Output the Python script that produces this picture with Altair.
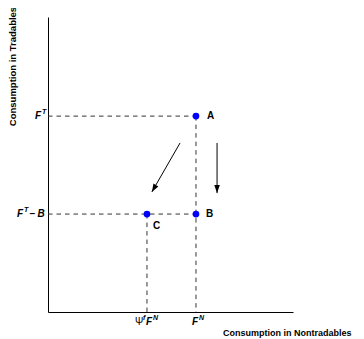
import altair as alt
import pandas as pd

FONT = "Liberation Sans"

# Points
pt_label = ["A", "B", "C"]
pt_x = [6.04, 6.04, 4.04]
pt_y = [6.64, 3.32, 3.32]
pt_dx = [11, 10, 6]
pt_dy = [0, 0, 12]

# Arrows
arr_x1 = [5.39, 6.90]
arr_y1 = [5.73, 5.73]
arr_x2 = [4.24, 6.90]
arr_y2 = [4.07, 4.03]
arr_angle = [30, 0]

# Tick label pieces (y axis): text, value, dx, dy, size
ylab_text = ["F", "T", "F", "T", "\u2212 B"]
ylab_val = [6.64, 6.64, 3.32, 3.32, 3.32]
ylab_dx = [-13, -6, -31, -24, -19]
ylab_dy = [0, -4, 0, -4, 0]
ylab_size = [10, 7, 10, 7, 10]

# Tick label pieces (x axis)
xlab_text = ["F", "N", "\u03a8", "f", "F", "N"]
xlab_val = [6.04, 6.04, 4.04, 4.04, 4.04, 4.04]
xlab_dx = [-4, 3, -12, -4, -1, 6]
xlab_dy = [10, 6, 10, 6, 10, 6]
xlab_size = [10, 7, 10, 7, 10, 7]

pts = pd.DataFrame({"label": pt_label, "x": pt_x, "y": pt_y, "dx": pt_dx, "dy": pt_dy})
arr = pd.DataFrame({"x1": arr_x1, "y1": arr_y1, "x2": arr_x2, "y2": arr_y2, "angle": arr_angle})

# Dashed guide segments built from the points
dash = pd.DataFrame({
    "x1": [0, 0, pt_x[0], pt_x[2]],
    "y1": [pt_y[0], pt_y[1], pt_y[0], pt_y[2]],
    "x2": [pt_x[0], pt_x[1], pt_x[0], pt_x[2]],
    "y2": [pt_y[0], pt_y[1], 0, 0],
})

xs = alt.Scale(domain=[0, 10], nice=False, zero=False)
ys = alt.Scale(domain=[0, 10], nice=False, zero=False)

base_x_axis = alt.Axis(domain=True, domainColor="black", domainWidth=1, ticks=False,
                       labels=False, grid=False, title="Consumption in Nontradables",
                       titleFont=FONT, titleFontSize=9, titleFontWeight="bold",
                       titleAlign="right", titleX=303, titleY=20, titleBaseline="middle",
                       titleColor="black")
base_y_axis = alt.Axis(domain=True, domainColor="black", domainWidth=1, ticks=False,
                       labels=False, grid=False, title="Consumption in Tradables",
                       titleFont=FONT, titleFontSize=9.5, titleFontWeight="bold",
                       titleAngle=-90, titleAlign="center", titleX=-36, titleY=49,
                       titleBaseline="middle", titleColor="black")

axes = alt.Chart(pd.DataFrame({"x": [0], "y": [0]})).mark_point(opacity=0).encode(
    x=alt.X("x:Q", scale=xs, axis=base_x_axis),
    y=alt.Y("y:Q", scale=ys, axis=base_y_axis),
)

dashes = alt.Chart(dash).mark_rule(strokeDash=[4.5, 4], color="#333333", strokeWidth=1).encode(
    x=alt.X("x1:Q", scale=xs), y=alt.Y("y1:Q", scale=ys), x2="x2:Q", y2="y2:Q")

arrow_lines = alt.Chart(arr).mark_rule(color="black", strokeWidth=1).encode(
    x=alt.X("x1:Q", scale=xs), y=alt.Y("y1:Q", scale=ys), x2="x2:Q", y2="y2:Q")

arrow_heads = alt.Chart(arr).mark_point(
    shape="M0,0L-0.35,-1L0.35,-1Z", filled=True, color="black", size=256, opacity=1
).encode(x=alt.X("x2:Q", scale=xs), y=alt.Y("y2:Q", scale=ys), angle=alt.Angle("angle:Q", scale=None))

dots = alt.Chart(pts).mark_circle(color="#0000ff", size=45, opacity=1).encode(
    x=alt.X("x:Q", scale=xs), y=alt.Y("y:Q", scale=ys))

labels = []
for i in range(len(pt_label)):
    labels.append(alt.Chart(pts.iloc[[i]]).mark_text(
        align="left", baseline="middle", font=FONT, fontSize=10, fontWeight="bold",
        dx=pt_dx[i], dy=pt_dy[i], color="black"
    ).encode(x=alt.X("x:Q", scale=xs), y=alt.Y("y:Q", scale=ys), text="label:N"))

ylabs = []
for i in range(len(ylab_text)):
    d = pd.DataFrame({"t": [ylab_text[i]], "v": [ylab_val[i]], "z": [0]})
    ylabs.append(alt.Chart(d).mark_text(
        align="left", baseline="middle", font=FONT, fontSize=ylab_size[i], fontStyle="italic",
        fontWeight="bold", dx=ylab_dx[i], dy=ylab_dy[i], color="black"
    ).encode(x=alt.X("z:Q", scale=xs), y=alt.Y("v:Q", scale=ys), text="t:N"))

xlabs = []
for i in range(len(xlab_text)):
    d = pd.DataFrame({"t": [xlab_text[i]], "v": [xlab_val[i]], "z": [0]})
    xlabs.append(alt.Chart(d).mark_text(
        align="left", baseline="middle", font=FONT, fontSize=xlab_size[i],
        fontStyle="italic" if xlab_text[i] != "\u03a8" else "normal",
        fontWeight="bold" if xlab_text[i] != "\u03a8" else "normal",
        dx=xlab_dx[i], dy=xlab_dy[i], color="black"
    ).encode(x=alt.X("v:Q", scale=xs), y=alt.Y("z:Q", scale=ys), text="t:N"))

chart = alt.layer(axes, dashes, arrow_lines, arrow_heads, dots, *labels, *ylabs, *xlabs).properties(
    width=245, height=295,
    autosize=alt.AutoSizeParams(type="none"),
    padding={"left": 40, "top": 9, "right": 60, "bottom": 28},
    background="white",
).configure_view(stroke=None)

chart.save("out.html", embed_options={"renderer": "svg", "actions": False})
